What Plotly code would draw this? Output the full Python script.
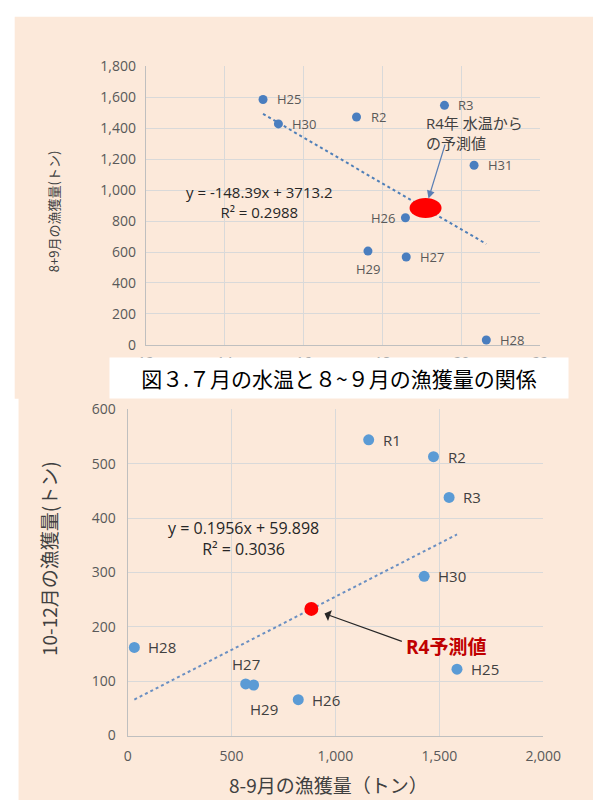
import plotly.graph_objects as go

W, H = 611, 809

# ---------------- data ----------------
# Top chart: July water temperature vs Aug-Sep catch
years_top = ["H25", "H26", "H27", "H28", "H29", "H30", "H31", "R2", "R3"]
temp_jul = [14.97, 18.58, 18.60, 20.63, 17.63, 15.36, 20.32, 17.34, 19.57]
catch_aug_sep = [1585, 821, 568, 32, 606, 1427, 1160, 1472, 1547]
pred_top_x = 19.09
pred_top_y = 884
top_slope, top_intercept = -148.39, 3713.2
top_eq_text = "y = -148.39x + 3713.2<br>R² = 0.2988"

# Bottom chart: Aug-Sep catch vs Oct-Dec catch
years_bot = ["H25", "H26", "H27", "H28", "H29", "H30", "R1", "R2", "R3"]
catch_aug_sep_b = [1585, 821, 568, 32, 606, 1427, 1160, 1472, 1547]
catch_oct_dec = [122, 66, 95, 162, 93, 293, 544, 513, 438]
pred_bot_x = 884
pred_bot_y = 233
bot_slope, bot_intercept = 0.1956, 59.898
bot_eq_text = "y = 0.1956x + 59.898<br>R² = 0.3036"

top_xticks = [12, 14, 16, 18, 20, 22]
top_yticks = [0, 200, 400, 600, 800, 1000, 1200, 1400, 1600, 1800]
bot_xticks = [0, 500, 1000, 1500, 2000]
bot_yticks = [0, 100, 200, 300, 400, 500, 600]

# label placement (style only)
top_label_pos = {"H26": "left", "H29": "below"}
bot_label_pos = {"H27": "above", "H29": "below"}

# ---------------- style ----------------
PEACH = "#FCE9DA"
GRID = "#D9D9D9"
TICK = "#595959"
TXT = "#404040"
FONT = "Open Sans, Noto Sans CJK JP"
JFONT = "Noto Sans CJK JP"

def px(x):
    return x / W

def py(y):
    return 1 - y / H

fig = go.Figure()

# trend lines computed from equation coefficients over data range
tx = [min(temp_jul), max(temp_jul)]
fig.add_trace(go.Scatter(x=tx, y=[top_slope * v + top_intercept for v in tx],
                         mode="lines", line=dict(color="#4F7FB8", width=2, dash="dot"),
                         xaxis="x", yaxis="y", hoverinfo="skip"))
fig.add_trace(go.Scatter(x=temp_jul, y=catch_aug_sep, mode="markers",
                         marker=dict(color="#4A7EBF", size=9),
                         xaxis="x", yaxis="y"))

bx = [min(catch_aug_sep_b), max(catch_aug_sep_b)]
fig.add_trace(go.Scatter(x=bx, y=[bot_slope * v + bot_intercept for v in bx],
                         mode="lines", line=dict(color="#6A8FC2", width=2, dash="dot"),
                         xaxis="x2", yaxis="y2", hoverinfo="skip"))
fig.add_trace(go.Scatter(x=catch_aug_sep_b, y=catch_oct_dec, mode="markers",
                         marker=dict(color="#5B9BD5", size=11),
                         xaxis="x2", yaxis="y2"))
fig.add_trace(go.Scatter(x=[pred_bot_x], y=[pred_bot_y], mode="markers",
                         marker=dict(color="#FF0000", size=14),
                         xaxis="x2", yaxis="y2"))

axis_common = dict(showgrid=True, gridcolor=GRID, gridwidth=1, zeroline=False,
                   showline=True, linecolor="#BFBFBF", linewidth=1.2,
                   ticks="", tickfont=dict(family=FONT, size=14, color=TICK),
                   mirror=False, fixedrange=True)

fig.update_layout(
    width=W, height=H,
    margin=dict(l=0, r=0, t=0, b=0),
    paper_bgcolor="white", plot_bgcolor=PEACH,
    showlegend=False,
    xaxis=dict(domain=[px(144), px(556)], range=[12, 22], tickvals=top_xticks,
               anchor="y", **axis_common),
    yaxis=dict(domain=[py(343), py(57.5)], range=[0, 1800], tickvals=top_yticks,
               tickformat=",d", anchor="x", **axis_common),
    xaxis2=dict(domain=[px(125), px(559)], range=[0, 2000], tickvals=bot_xticks,
                tickformat=",d", anchor="y2", **axis_common),
    yaxis2=dict(domain=[py(743), py(409)], range=[0, 600], tickvals=bot_yticks,
                anchor="x2", **axis_common),
)
fig.update_layout(xaxis_ticklabelstandoff=4, yaxis_ticklabelstandoff=6,
                  xaxis2_ticklabelstandoff=8, yaxis2_ticklabelstandoff=8)

shapes = [
    dict(type="rect", xref="paper", yref="paper", x0=px(7), x1=1, y0=py(398), y1=py(7),
         fillcolor=PEACH, line=dict(width=0), layer="below"),
    dict(type="rect", xref="paper", yref="paper", x0=px(11), x1=1, y0=0, y1=py(397),
         fillcolor=PEACH, line=dict(width=0), layer="below"),
    # predicted value (top chart) as ellipse anchored on data point
    dict(type="circle", xref="x", yref="y", xsizemode="pixel", ysizemode="pixel",
         xanchor=pred_top_x, yanchor=pred_top_y, x0=-16, x1=16, y0=-10, y1=10,
         fillcolor="#FF0000", line=dict(width=0), layer="above"),
]

ann = []

def lab(x, y, t, pos, xref, yref, size, color):
    d = dict(x=x, y=y, xref=xref, yref=yref, text=t, showarrow=False,
             font=dict(family=FONT, size=size, color=color))
    if pos == "left":
        d.update(xanchor="right", yanchor="middle", xshift=-8)
    elif pos == "below":
        d.update(xanchor="center", yanchor="top", yshift=-7)
    elif pos == "above":
        d.update(xanchor="center", yanchor="bottom", yshift=8)
    else:
        d.update(xanchor="left", yanchor="middle", xshift=12)
    return d

for xv, yv, t in zip(temp_jul, catch_aug_sep, years_top):
    ann.append(lab(xv, yv, t, top_label_pos.get(t, "right"), "x", "y", 13, TICK))
for xv, yv, t in zip(catch_aug_sep_b, catch_oct_dec, years_bot):
    d = lab(xv, yv, t, bot_label_pos.get(t, "right"), "x2", "y2", 15, "#404040")
    if t == "H29":
        d["xshift"] = 10
        d["yshift"] = -12
    ann.append(d)

def paper_text(x, y, text, size, color, family=FONT, **kw):
    d = dict(x=px(x), y=py(y), xref="paper", yref="paper", text=text,
             showarrow=False, xanchor="center", yanchor="middle",
             font=dict(family=family, size=size, color=color))
    d.update(kw)
    return d

# equations
ann.append(paper_text(263, 197, top_eq_text, 15, "#262626", align="center"))
ann.append(paper_text(246, 541, bot_eq_text, 16, "#262626", align="center"))

# top prediction arrow + text
ann.append(dict(x=pred_top_x, y=pred_top_y, xref="x", yref="y", text="",
                showarrow=True, ax=20, ay=-65, arrowhead=2, arrowsize=1.3,
                arrowwidth=1.2, arrowcolor="#5A7FB5", standoff=10))
ann.append(paper_text(434, 126, "R4年 水温から<br>の予測値", 15, TXT,
                      xanchor="left", align="left"))

# bottom prediction arrow + text
ann.append(dict(x=pred_bot_x, y=pred_bot_y, xref="x2", yref="y2", text="",
                showarrow=True, ax=92, ay=33, arrowhead=1, arrowsize=1.6,
                arrowwidth=1.2, arrowcolor="#262626", standoff=14))
ann.append(paper_text(414, 652, "<b>R4予測値</b>", 19, "#C00000", xanchor="left"))

# axis titles
ann.append(paper_text(47, 207, "8+9月の漁獲量(トン)", 13, TXT, family=JFONT, textangle=-90))
ann.append(paper_text(43, 562, "10-12月の漁獲量(トン)", 19, TXT, family=JFONT, textangle=-90))
ann.append(paper_text(335, 793, "8-9月の漁獲量（トン）", 19, TXT, family=JFONT))

# figure title box (covers top x tick labels, as in the original)
ann.append(paper_text(346, 377, "図３.７月の水温と８~９月の漁獲量の関係", 21, "black",
                      family=JFONT, bgcolor="white", width=458, height=40, borderpad=0))

fig.update_layout(shapes=shapes, annotations=ann)
fig.write_html(
    "out.html",
    config={"displayModeBar": False},
    post_script="document.body.style.margin='0';document.body.style.padding='0';"
                "document.body.style.overflow='hidden';",
)
